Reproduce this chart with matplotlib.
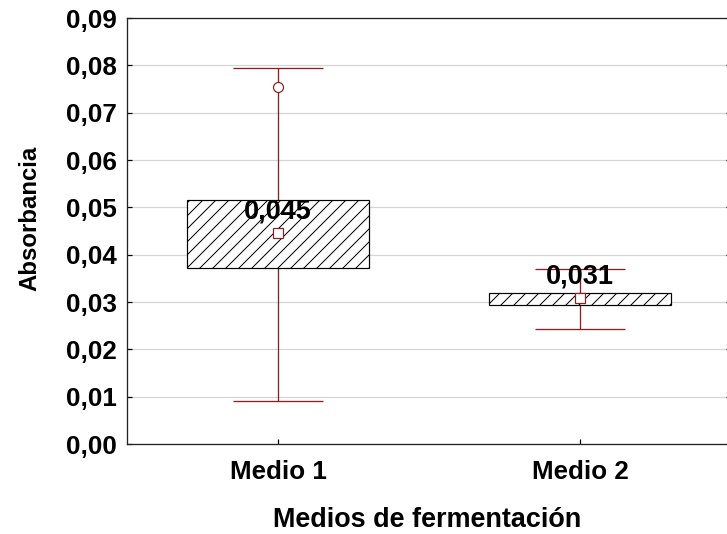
import matplotlib
matplotlib.use('Agg')
import matplotlib.pyplot as plt
from matplotlib.ticker import FuncFormatter, MultipleLocator

# data
categories = ['Medio 1', 'Medio 2']
q1 = [0.0371, 0.0293]
q3 = [0.0515, 0.0319]
whis_lo = [0.0091, 0.0243]
whis_hi = [0.0795, 0.0369]
means = [0.0445, 0.0308]
mean_labels = ['0,045', '0,031']
outliers = [0.0755, None]

DPI = 78  # chosen so that the '//' hatch spacing matches the reference


def px(v):
    """pixels -> points at the chosen dpi"""
    return v * 72.0 / DPI


plt.rcParams['font.family'] = ['Liberation Sans', 'DejaVu Sans']
plt.rcParams['font.weight'] = 'bold'
plt.rcParams['hatch.linewidth'] = px(1.0)

W, H = 727, 534
fig = plt.figure(figsize=(W / DPI, H / DPI), dpi=DPI, facecolor='white')
ax = fig.add_axes([127 / W, 90 / H, 604 / W, 426 / H])

red = '#8b1f1f'
pos = list(range(len(categories)))

# whiskers and caps
ax.vlines(pos, whis_lo, whis_hi, color=red, lw=px(1.3), zorder=2)
ax.hlines(whis_lo, [p - 0.15 for p in pos], [p + 0.15 for p in pos], color=red, lw=px(1.3), zorder=2)
ax.hlines(whis_hi, [p - 0.15 for p in pos], [p + 0.15 for p in pos], color=red, lw=px(1.3), zorder=2)

# boxes
heights = [b - a for a, b in zip(q1, q3)]
ax.bar(pos, heights, bottom=q1, width=0.6, color='white', edgecolor='black',
       hatch='//', lw=px(1.2), zorder=3)

# means
ax.plot(pos, means, ls='none', marker='s', ms=px(10), mfc='white', mec=red, mew=px(1.2), zorder=4)

# outliers
for p, o in zip(pos, outliers):
    if o is not None:
        ax.plot([p], [o], ls='none', marker='o', ms=px(10), mfc='white', mec=red, mew=px(1.2), zorder=4)

# value labels
for p, m, lab in zip(pos, means, mean_labels):
    ax.annotate(lab, (p, m), xytext=(0, px(22)), textcoords='offset points',
                ha='center', va='center', fontsize=px(27), fontweight='bold', zorder=5)

ax.set_xlim(-0.5, 1.5)
ax.set_ylim(0, 0.09)
ax.yaxis.set_major_locator(MultipleLocator(0.01))
ax.yaxis.set_major_formatter(FuncFormatter(lambda v, _: f'{v:.2f}'.replace('.', ',')))
ax.set_xticks(pos)
ax.set_xticklabels(categories)

ax.grid(axis='y', color='#d4d4d4', lw=px(1.2), zorder=0)
ax.set_axisbelow(True)

for s in ax.spines.values():
    s.set_linewidth(px(1.3))
    s.set_color('#222222')

ax.tick_params(axis='y', direction='in', length=px(5), width=px(1.2), right=True,
               labelsize=px(26), pad=px(10))
ax.tick_params(axis='x', direction='in', length=px(5), width=px(1.2),
               labelsize=px(26), pad=px(16))

fig.text(30 / W, 1 - 218 / H, 'Absorbancia', rotation=90, ha='center', va='center',
         fontsize=px(24), fontweight='bold')
fig.text(427 / W, 1 - 527 / H, 'Medios de fermentación', ha='center', va='baseline',
         fontsize=px(27), fontweight='bold')

fig.savefig('out.png', dpi=DPI, facecolor='white')
